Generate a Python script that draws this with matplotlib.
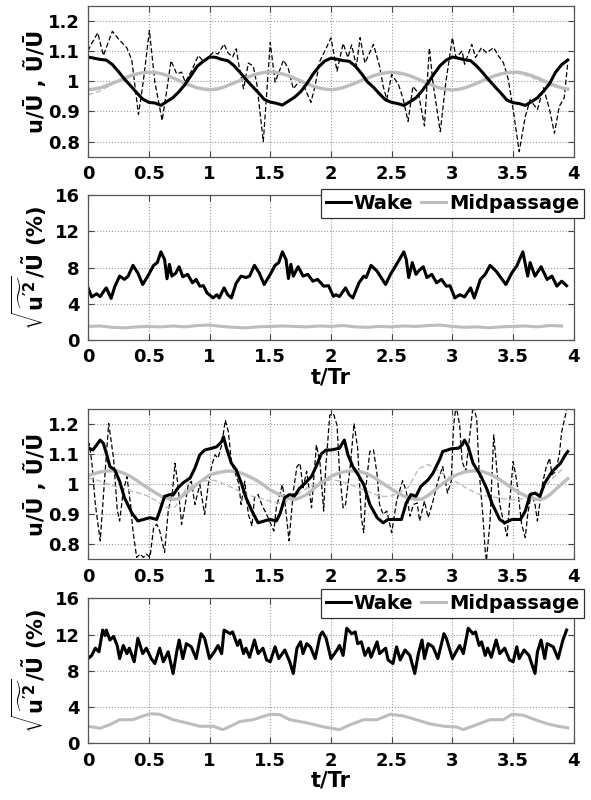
import matplotlib
matplotlib.use("Agg")
import matplotlib.pyplot as plt
from matplotlib.lines import Line2D

plt.rcParams['font.family'] = ['DejaVu Sans']
plt.rcParams['font.weight'] = 'bold'
plt.rcParams['mathtext.fontset'] = 'custom'
plt.rcParams['mathtext.rm'] = 'DejaVu Sans:bold'
plt.rcParams['mathtext.it'] = 'DejaVu Sans:bold'
plt.rcParams['mathtext.bf'] = 'DejaVu Sans:bold'

# ---------------- data ----------------
t_step = [i * 0.05 for i in range(80)]
t_step10 = [i * 0.1 for i in range(40)]

# Panel 1 (upper case): phase-averaged wake, instantaneous wake, midpassage
p1_wake_avg = [1.080, 1.076, 1.072, 1.070, 1.055, 1.032, 1.007, 0.985, 0.962, 0.941,
               0.930, 0.928, 0.920, 0.933, 0.946, 0.966, 0.990, 1.020, 1.050, 1.066,
               1.080, 1.079, 1.072, 1.068, 1.052, 1.030, 1.006, 0.984, 0.963, 0.940,
               0.931, 0.927, 0.921, 0.934, 0.947, 0.965, 0.991, 1.022, 1.048, 1.067,
               1.076, 1.073, 1.068, 1.066, 1.050, 1.026, 0.998, 0.980, 0.958, 0.938,
               0.930, 0.926, 0.920, 0.932, 0.945, 0.968, 0.995, 1.025, 1.052, 1.070,
               1.080, 1.076, 1.071, 1.068, 1.050, 1.028, 1.004, 0.982, 0.960, 0.937,
               0.929, 0.926, 0.920, 0.932, 0.945, 0.967, 0.992, 1.030, 1.055, 1.070]
p1_mid_avg = [0.972, 0.974, 0.978, 0.985, 0.993, 1.001, 1.010, 1.018, 1.024, 1.028,
              1.030, 1.029, 1.025, 1.019, 1.011, 1.002, 0.993, 0.985, 0.978, 0.974,
              0.972, 0.973, 0.978, 0.986, 0.994, 1.002, 1.011, 1.019, 1.025, 1.029,
              1.031, 1.029, 1.024, 1.018, 1.010, 1.001, 0.992, 0.984, 0.978, 0.974,
              0.972, 0.974, 0.979, 0.986, 0.994, 1.002, 1.010, 1.018, 1.024, 1.028,
              1.030, 1.028, 1.024, 1.018, 1.010, 1.001, 0.992, 0.984, 0.977, 0.973,
              0.971, 0.973, 0.978, 0.985, 0.993, 1.002, 1.010, 1.018, 1.024, 1.028,
              1.030, 1.029, 1.025, 1.019, 1.011, 1.002, 0.993, 0.985, 0.978, 0.974]
p1_mid_inst = [0.955, 0.968, 0.990, 1.005, 1.025, 1.030, 1.027, 1.012, 0.995, 0.980,
               0.975, 0.978, 0.992, 1.010, 1.025, 1.032, 1.024, 1.010, 0.990, 0.978,
               0.972, 0.976, 0.993, 1.012, 1.026, 1.028, 1.022, 1.008, 0.990, 0.975,
               0.970, 0.979, 0.995, 1.013, 1.027, 1.030, 1.020, 1.005, 0.988, 0.975]
p1_inst_t = [0.0, 0.02, 0.08, 0.126, 0.2, 0.25, 0.32, 0.36, 0.415, 0.455,
             0.505, 0.55, 0.61, 0.65, 0.683, 0.73, 0.77, 0.8, 0.853, 0.908,
             0.95, 0.99, 1.03, 1.07, 1.12, 1.15, 1.19, 1.22, 1.243, 1.28,
             1.32, 1.36, 1.39, 1.443, 1.5, 1.54, 1.61, 1.65, 1.69, 1.72,
             1.76, 1.835, 1.87, 1.91, 1.95, 2.0, 2.05, 2.1, 2.14, 2.17,
             2.21, 2.24, 2.28, 2.35, 2.40, 2.43, 2.46, 2.5, 2.555, 2.595,
             2.635, 2.675, 2.72, 2.77, 2.81, 2.84, 2.90, 2.945, 3.0, 3.03,
             3.08, 3.10, 3.16, 3.19, 3.24, 3.28, 3.34, 3.38, 3.42, 3.46,
             3.5, 3.55, 3.60, 3.64, 3.70, 3.75, 3.80, 3.84, 3.88, 3.92, 3.95]
p1_inst = [1.100, 1.118, 1.160, 1.085, 1.165, 1.140, 1.110, 1.070, 0.890, 1.000,
           1.168, 0.997, 0.870, 0.975, 1.068, 1.024, 1.030, 0.997, 1.035, 1.085,
           1.065, 1.080, 1.095, 1.090, 1.123, 1.095, 1.080, 1.107, 1.050, 0.975,
           1.060, 1.050, 0.990, 0.800, 1.128, 0.997, 1.070, 1.040, 0.975, 0.990,
           1.000, 0.930, 0.986, 1.068, 1.100, 1.143, 1.033, 1.125, 1.078, 1.120,
           1.050, 1.144, 1.060, 1.122, 1.050, 0.983, 0.940, 1.022, 0.990, 0.940,
           0.867, 0.983, 0.960, 0.852, 1.110, 0.995, 0.833, 0.994, 1.144, 1.078,
           1.100, 1.056, 1.122, 1.078, 1.111, 1.094, 1.111, 1.083, 1.061, 1.006,
           0.906, 0.767, 0.883, 0.939, 0.906, 0.978, 0.906, 0.828, 0.917, 0.944, 1.061]

# Panel 2: rms (%)
p2_wake_t = [0.0, 0.03, 0.07, 0.1, 0.14, 0.15, 0.19, 0.22, 0.26, 0.3,
             0.33, 0.37, 0.41, 0.45, 0.5, 0.54, 0.57, 0.6, 0.63, 0.65,
             0.67, 0.69, 0.72, 0.75, 0.78, 0.82, 0.86, 0.89, 0.92, 0.95,
             0.98, 1.03, 1.06, 1.08, 1.12, 1.15, 1.18, 1.22, 1.26, 1.3,
             1.33, 1.37, 1.41, 1.45, 1.5, 1.54, 1.57, 1.6, 1.63, 1.65,
             1.67, 1.69, 1.73, 1.77, 1.81, 1.85, 1.89, 1.94, 1.98, 2.02,
             2.04, 2.07, 2.12, 2.15, 2.18, 2.23, 2.27, 2.29, 2.33, 2.38,
             2.45, 2.49, 2.54, 2.6, 2.62, 2.64, 2.67, 2.7, 2.72, 2.76,
             2.79, 2.83, 2.87, 2.91, 2.95, 2.98, 3.02, 3.06, 3.1, 3.15,
             3.18, 3.23, 3.27, 3.31, 3.36, 3.41, 3.44, 3.49, 3.53, 3.58,
             3.62, 3.64, 3.68, 3.73, 3.78, 3.82, 3.86, 3.9, 3.94]
p2_wake = [5.76, 4.76, 5.10, 4.80, 5.60, 5.76, 4.60, 5.90, 7.06, 6.70,
           7.06, 8.25, 7.40, 6.13, 7.25, 8.25, 8.55, 9.74, 8.90, 6.77,
           8.36, 7.06, 7.36, 8.10, 6.99, 7.25, 6.32, 6.69, 5.95, 6.00,
           5.20, 4.65, 5.00, 4.65, 5.76, 5.00, 4.65, 6.30, 7.06, 6.90,
           7.06, 8.25, 7.40, 6.13, 7.25, 8.25, 8.55, 9.74, 8.90, 6.80,
           8.36, 7.06, 8.10, 7.06, 7.25, 6.50, 6.70, 5.95, 6.00, 4.83,
           5.00, 4.80, 5.76, 5.00, 4.65, 6.30, 7.06, 6.90, 8.25, 7.60,
           6.13, 7.25, 8.36, 9.74, 8.90, 6.90, 8.55, 7.25, 7.60, 8.10,
           6.90, 7.25, 6.32, 6.70, 5.95, 6.00, 4.65, 5.00, 4.76, 5.76,
           4.65, 6.69, 7.25, 8.25, 7.60, 6.69, 6.13, 7.43, 8.18, 9.74,
           7.06, 8.55, 7.06, 8.10, 6.69, 7.06, 5.95, 6.50, 6.00]
p2_mid = [1.50, 1.55, 1.40, 1.35, 1.45, 1.50, 1.45, 1.55, 1.45, 1.60,
          1.65, 1.50, 1.40, 1.35, 1.45, 1.50, 1.55, 1.50, 1.45, 1.55,
          1.50, 1.60, 1.45, 1.40, 1.50, 1.45, 1.55, 1.50, 1.60, 1.65,
          1.50, 1.40, 1.45, 1.35, 1.45, 1.50, 1.55, 1.45, 1.60, 1.55]

# Panel 3 (lower case)
p3_wake_avg_t = [0.0, 0.04, 0.1, 0.126, 0.154, 0.18, 0.22, 0.26, 0.3, 0.36,
                 0.41, 0.455, 0.51, 0.565, 0.59, 0.63, 0.675, 0.70, 0.74, 0.78,
                 0.84, 0.88, 0.92, 0.96, 1.02, 1.06, 1.1, 1.115, 1.14, 1.18,
                 1.22, 1.26, 1.3, 1.35, 1.40, 1.45, 1.5, 1.55, 1.58, 1.62,
                 1.66, 1.7, 1.74, 1.78, 1.84, 1.88, 1.92, 1.96, 2.0, 2.07,
                 2.11, 2.14, 2.18, 2.225, 2.27, 2.32, 2.38, 2.43, 2.47, 2.54,
                 2.58, 2.62, 2.66, 2.7, 2.74, 2.8, 2.84, 2.9, 2.92, 2.99,
                 3.05, 3.08, 3.1, 3.13, 3.17, 3.23, 3.28, 3.33, 3.39, 3.43,
                 3.49, 3.56, 3.6, 3.64, 3.68, 3.72, 3.76, 3.82, 3.89, 3.93, 3.95]
p3_wake_avg = [1.120, 1.113, 1.146, 1.135, 1.097, 1.058, 1.047, 1.009, 0.954, 0.904,
               0.877, 0.882, 0.888, 0.882, 0.910, 0.959, 0.965, 0.963, 0.987, 1.003,
               1.020, 1.053, 1.097, 1.113, 1.119, 1.124, 1.141, 1.157, 1.119, 1.069,
               1.047, 1.005, 0.955, 0.910, 0.871, 0.877, 0.882, 0.877, 0.900, 0.955,
               0.965, 0.960, 0.985, 1.000, 1.025, 1.060, 1.100, 1.113, 1.113, 1.119,
               1.146, 1.097, 1.058, 1.030, 0.998, 0.932, 0.888, 0.871, 0.882, 0.882,
               0.882, 0.937, 0.965, 0.959, 0.992, 1.014, 1.036, 1.086, 1.108, 1.117,
               1.119, 1.130, 1.146, 1.124, 1.069, 1.030, 0.987, 0.932, 0.882, 0.871,
               0.882, 0.882, 0.910, 0.965, 0.970, 0.959, 1.003, 1.041, 1.069, 1.097, 1.108]
p3_mid_avg = [1.028, 1.034, 1.040, 1.043, 1.044, 1.042, 1.035, 1.025, 1.012, 0.998,
              0.985, 0.972, 0.960, 0.953, 0.949, 0.952, 0.968, 0.983, 1.000, 1.015,
              1.030, 1.036, 1.040, 1.043, 1.042, 1.038, 1.030, 1.020, 1.009, 0.995,
              0.980, 0.970, 0.960, 0.952, 0.948, 0.955, 0.965, 0.982, 0.998, 1.012,
              1.025, 1.034, 1.040, 1.043, 1.044, 1.040, 1.033, 1.023, 1.010, 0.996,
              0.983, 0.970, 0.960, 0.953, 0.949, 0.950, 0.962, 0.978, 0.995, 1.010,
              1.024, 1.033, 1.040, 1.043, 1.044, 1.041, 1.034, 1.024, 1.012, 0.998,
              0.984, 0.971, 0.961, 0.953, 0.949, 0.951, 0.963, 0.982, 1.000, 1.018]
p3_mid_inst = [1.020, 1.012, 1.000, 0.990, 0.980, 0.972, 0.962, 0.945, 0.922, 0.925,
               0.980, 1.000, 1.010, 1.012, 1.000, 0.985, 0.970, 0.958, 0.950, 0.940,
               0.935, 0.950, 0.975, 0.995, 1.008, 1.014, 1.010, 0.998, 0.985, 0.972,
               0.960, 0.958, 0.970, 0.990, 1.050, 1.065, 1.045, 1.025, 1.005, 0.985,
               0.968, 0.960, 0.955, 0.950, 0.948, 0.952, 0.965, 0.990, 1.025, 1.055]
p3_mid_inst_t = [i * 0.08 for i in range(50)]
p3_inst_t = [0.0, 0.01, 0.03, 0.06, 0.1, 0.135, 0.17, 0.21, 0.24, 0.26,
             0.29, 0.32, 0.35, 0.37, 0.40, 0.43, 0.455, 0.48, 0.51, 0.54,
             0.565, 0.59, 0.63, 0.66, 0.695, 0.716, 0.74, 0.77, 0.8, 0.825,
             0.85, 0.88, 0.92, 0.96, 0.99, 1.02, 1.045, 1.07, 1.1, 1.13,
             1.155, 1.18, 1.22, 1.24, 1.26, 1.29, 1.32, 1.35, 1.37, 1.40,
             1.43, 1.47, 1.53, 1.55, 1.6, 1.62, 1.655, 1.69, 1.72, 1.745,
             1.77, 1.8, 1.84, 1.88, 1.91, 1.94, 1.955, 1.99, 2.02, 2.05,
             2.07, 2.1, 2.12, 2.16, 2.19, 2.22, 2.25, 2.27, 2.29, 2.32,
             2.35, 2.38, 2.4, 2.43, 2.46, 2.5, 2.54, 2.59, 2.62, 2.65,
             2.68, 2.71, 2.73, 2.77, 2.8, 2.84, 2.88, 2.92, 2.96, 2.99,
             3.01, 3.03, 3.06, 3.08, 3.11, 3.14, 3.17, 3.2, 3.22, 3.25,
             3.27, 3.28, 3.31, 3.34, 3.36, 3.39, 3.42, 3.45, 3.47, 3.5,
             3.53, 3.57, 3.6, 3.62, 3.65, 3.68, 3.7, 3.74, 3.77, 3.8,
             3.82, 3.85, 3.88, 3.9, 3.94]
p3_inst = [1.100, 1.135, 1.075, 0.932, 0.811, 1.009, 1.201, 1.086, 0.915, 0.877,
           0.976, 1.025, 0.932, 0.844, 0.756, 0.767, 0.756, 0.767, 0.756, 0.855,
           0.866, 0.844, 0.773, 0.910, 0.976, 1.069, 0.998, 0.866, 0.932, 0.998,
           1.009, 0.932, 0.998, 0.899, 0.998, 1.064, 1.097, 1.086, 1.129, 1.212,
           1.174, 1.075, 1.025, 1.003, 0.932, 1.009, 0.899, 0.860, 0.954, 0.965,
           0.932, 0.899, 0.844, 0.921, 0.998, 0.943, 0.811, 0.976, 1.058, 1.069,
           0.987, 1.042, 0.921, 1.130, 1.069, 0.910, 1.042, 1.229, 1.234, 1.196,
           1.042, 0.921, 0.932, 1.064, 1.201, 1.119, 0.888, 0.838, 0.998, 1.108,
           1.114, 1.031, 0.932, 0.899, 0.910, 0.838, 0.943, 1.011, 0.976, 0.893,
           0.932, 0.937, 0.877, 0.943, 0.888, 0.943, 1.009, 1.058, 0.970, 1.009,
           1.196, 1.260, 1.196, 1.075, 1.042, 1.152, 1.260, 1.218, 1.042, 0.899,
           0.778, 0.745, 0.877, 1.163, 1.075, 0.932, 0.877, 0.827, 0.932, 1.075,
           1.009, 0.866, 0.822, 0.899, 0.970, 0.932, 0.877, 0.998, 1.053, 1.086,
           1.031, 1.042, 1.097, 1.174, 1.245]

# Panel 4: rms (%)
p4_wake_t = [0.0, 0.03, 0.06, 0.09, 0.12, 0.14, 0.15, 0.18, 0.21, 0.24,
             0.26, 0.29, 0.32, 0.34, 0.38, 0.41, 0.45, 0.48, 0.52, 0.55,
             0.59, 0.62, 0.66, 0.70, 0.73, 0.75, 0.78, 0.81, 0.85, 0.89,
             0.93, 0.96, 1.0, 1.04, 1.07, 1.1, 1.12, 1.17, 1.19, 1.23,
             1.25, 1.28, 1.3, 1.33, 1.37, 1.4, 1.44, 1.47, 1.5, 1.54,
             1.57, 1.62, 1.66, 1.69, 1.72, 1.75, 1.77, 1.8, 1.83, 1.87,
             1.91, 1.93, 1.96, 2.0, 2.05, 2.07, 2.1, 2.13, 2.17, 2.2,
             2.22, 2.25, 2.28, 2.31, 2.33, 2.38, 2.4, 2.45, 2.47, 2.51,
             2.54, 2.57, 2.61, 2.65, 2.69, 2.72, 2.75, 2.77, 2.8, 2.84,
             2.88, 2.93, 2.95, 3.0, 3.03, 3.06, 3.09, 3.13, 3.17, 3.19,
             3.22, 3.24, 3.27, 3.29, 3.32, 3.36, 3.39, 3.43, 3.47, 3.5,
             3.53, 3.55, 3.59, 3.63, 3.68, 3.7, 3.73, 3.76, 3.78, 3.83,
             3.87, 3.91, 3.94]
p4_wake = [9.35, 9.70, 10.5, 10.1, 12.5, 11.9, 12.5, 11.4, 11.8, 10.8,
           9.35, 10.8, 9.90, 10.5, 9.00, 11.6, 9.90, 10.5, 9.35, 8.80,
           10.5, 9.00, 10.1, 7.70, 10.1, 11.4, 9.35, 11.0, 10.65, 9.35,
           12.1, 11.6, 9.35, 10.1, 10.8, 9.90, 12.5, 12.1, 12.3, 10.8,
           11.4, 9.90, 10.5, 9.50, 11.4, 9.90, 10.5, 9.20, 9.00, 10.65,
           9.35, 10.3, 9.00, 7.70, 10.5, 11.2, 9.90, 11.0, 10.65, 9.35,
           11.9, 12.3, 11.6, 9.35, 10.3, 10.8, 9.70, 12.7, 12.1, 12.3,
           11.0, 11.2, 9.70, 10.5, 9.50, 11.2, 9.90, 10.5, 9.20, 8.80,
           10.65, 9.20, 10.3, 9.70, 7.70, 9.90, 11.4, 9.35, 11.0, 10.65,
           9.35, 12.1, 11.6, 9.35, 10.1, 10.8, 9.90, 12.7, 12.1, 12.3,
           10.8, 11.2, 9.70, 10.5, 9.50, 11.4, 9.90, 10.5, 9.20, 9.00,
           10.65, 9.35, 10.3, 9.70, 7.70, 10.1, 11.4, 9.35, 11.0, 10.65,
           9.35, 11.4, 12.5]
p4_mid_t = [0.0, 0.1, 0.18, 0.26, 0.37, 0.45, 0.51, 0.59, 0.7, 0.81,
            0.92, 1.03, 1.11, 1.2, 1.25, 1.36, 1.44, 1.5, 1.58, 1.66,
            1.8, 1.94, 2.07, 2.16, 2.27, 2.38, 2.49, 2.6, 2.7, 2.81,
            2.93, 3.03, 3.09, 3.2, 3.31, 3.42, 3.49, 3.58, 3.68, 3.78,
            3.87, 3.95]
p4_mid = [1.87, 1.65, 2.05, 2.60, 2.60, 3.00, 3.25, 3.20, 2.60, 2.25,
          1.87, 1.87, 1.50, 2.05, 2.40, 2.60, 2.95, 3.20, 3.15, 2.60,
          2.25, 1.80, 1.50, 2.05, 2.60, 2.60, 3.20, 3.00, 2.60, 2.15,
          1.87, 1.80, 1.50, 2.05, 2.60, 2.60, 3.20, 3.10, 2.60, 2.15,
          1.87, 1.70]

x_ticks = [0, 0.5, 1, 1.5, 2, 2.5, 3, 3.5, 4]
x_ticklabels = ['0', '0.5', '1', '1.5', '2', '2.5', '3', '3.5', '4']
u_ticks = [0.8, 0.9, 1.0, 1.1, 1.2]
u_ticklabels = ['0.8', '0.9', '1', '1.1', '1.2']
rms_ticks = [0, 4, 8, 12, 16]
rms_ticklabels = ['0', '4', '8', '12', '16']
legend_labels = ['Wake', 'Midpassage']

# ---------------- figure ----------------
GRAY = '#bdbdbd'
fig = plt.figure(figsize=(5.91, 8.0), dpi=100)
fig.patch.set_facecolor('white')

L, W = 0.149, 0.822
ax1 = fig.add_axes([L, 0.804, W, 0.189])
ax2 = fig.add_axes([L, 0.575, W, 0.181])
ax3 = fig.add_axes([L, 0.301, W, 0.188])
ax4 = fig.add_axes([L, 0.071, W, 0.181])

TICK_FS = 13
RMS_LABEL = r"$\sqrt{\widetilde{u^{\prime 2}}}/\tilde{U}$ (%)"


def style(ax, yticks, ylabels, ylim):
    ax.set_xlim(0, 4)
    ax.set_ylim(*ylim)
    ax.set_xticks(x_ticks)
    ax.set_xticklabels(x_ticklabels, fontsize=TICK_FS, fontweight='bold')
    ax.set_yticks(yticks)
    ax.set_yticklabels(ylabels, fontsize=TICK_FS, fontweight='bold')
    ax.tick_params(direction='in', top=True, right=True, length=4, width=0.8,
                   color='#444444', pad=6)
    ax.grid(True, linestyle=':', color='#9a9a9a', linewidth=0.8)
    for s in ax.spines.values():
        s.set_color('#555555')
        s.set_linewidth(0.9)


# Panel 1
ax1.plot(p1_inst_t, p1_inst, color='black', linestyle='--', linewidth=0.9, dashes=(4, 2))
ax1.plot(t_step10, p1_mid_inst, color=GRAY, linestyle='--', linewidth=1.0, dashes=(4, 2))
ax1.plot(t_step, p1_mid_avg, color=GRAY, linewidth=2.4)
ax1.plot(t_step, p1_wake_avg, color='black', linewidth=2.2)
style(ax1, u_ticks, u_ticklabels, (0.75, 1.25))
ax1.set_ylabel('u/Ū , Ũ/Ū', fontsize=15, fontweight='bold')
ax1.yaxis.set_label_coords(-0.085, 0.5)

# Panel 2
ax2.plot(p2_wake_t, p2_wake, color='black', linewidth=2.2)
ax2.plot(t_step10, p2_mid, color=GRAY, linewidth=2.2)
style(ax2, rms_ticks, rms_ticklabels, (0, 16))
ax2.set_ylabel(RMS_LABEL, fontsize=15, fontweight='bold')
ax2.yaxis.set_label_coords(-0.08, 0.5)
ax2.set_xlabel('t/Tr', fontsize=15, fontweight='bold', labelpad=1)

# Panel 3
ax3.plot(p3_inst_t, p3_inst, color='black', linestyle='--', linewidth=0.9, dashes=(4, 2))
ax3.plot(p3_mid_inst_t, p3_mid_inst, color=GRAY, linestyle='--', linewidth=1.0, dashes=(4, 2))
ax3.plot(t_step, p3_mid_avg, color=GRAY, linewidth=2.4)
ax3.plot(p3_wake_avg_t, p3_wake_avg, color='black', linewidth=2.2)
style(ax3, u_ticks, u_ticklabels, (0.75, 1.25))
ax3.set_ylabel('u/Ū , Ũ/Ū', fontsize=15, fontweight='bold')
ax3.yaxis.set_label_coords(-0.085, 0.5)

# Panel 4
ax4.plot(p4_wake_t, p4_wake, color='black', linewidth=2.2)
ax4.plot(p4_mid_t, p4_mid, color=GRAY, linewidth=2.2)
style(ax4, rms_ticks, rms_ticklabels, (0, 16))
ax4.set_ylabel(RMS_LABEL, fontsize=15, fontweight='bold')
ax4.yaxis.set_label_coords(-0.08, 0.5)
ax4.set_xlabel('t/Tr', fontsize=15, fontweight='bold', labelpad=1)

handles = [Line2D([], [], color='black', linewidth=2.2),
           Line2D([], [], color=GRAY, linewidth=2.2)]
for ax, top in ((ax2, 0.764), (ax4, 0.264)):
    leg = ax.legend(handles, legend_labels, loc='upper right',
                    bbox_to_anchor=(0.989, top), bbox_transform=fig.transFigure,
                    ncol=2, fancybox=False, framealpha=1, edgecolor='#333333',
                    handlelength=1.3, handletextpad=0.15, columnspacing=0.4,
                    borderpad=0.25, borderaxespad=0,
                    prop={'size': 14, 'weight': 'bold'})
    leg.get_frame().set_linewidth(0.9)

fig.savefig('out.png', dpi=100, facecolor='white')
